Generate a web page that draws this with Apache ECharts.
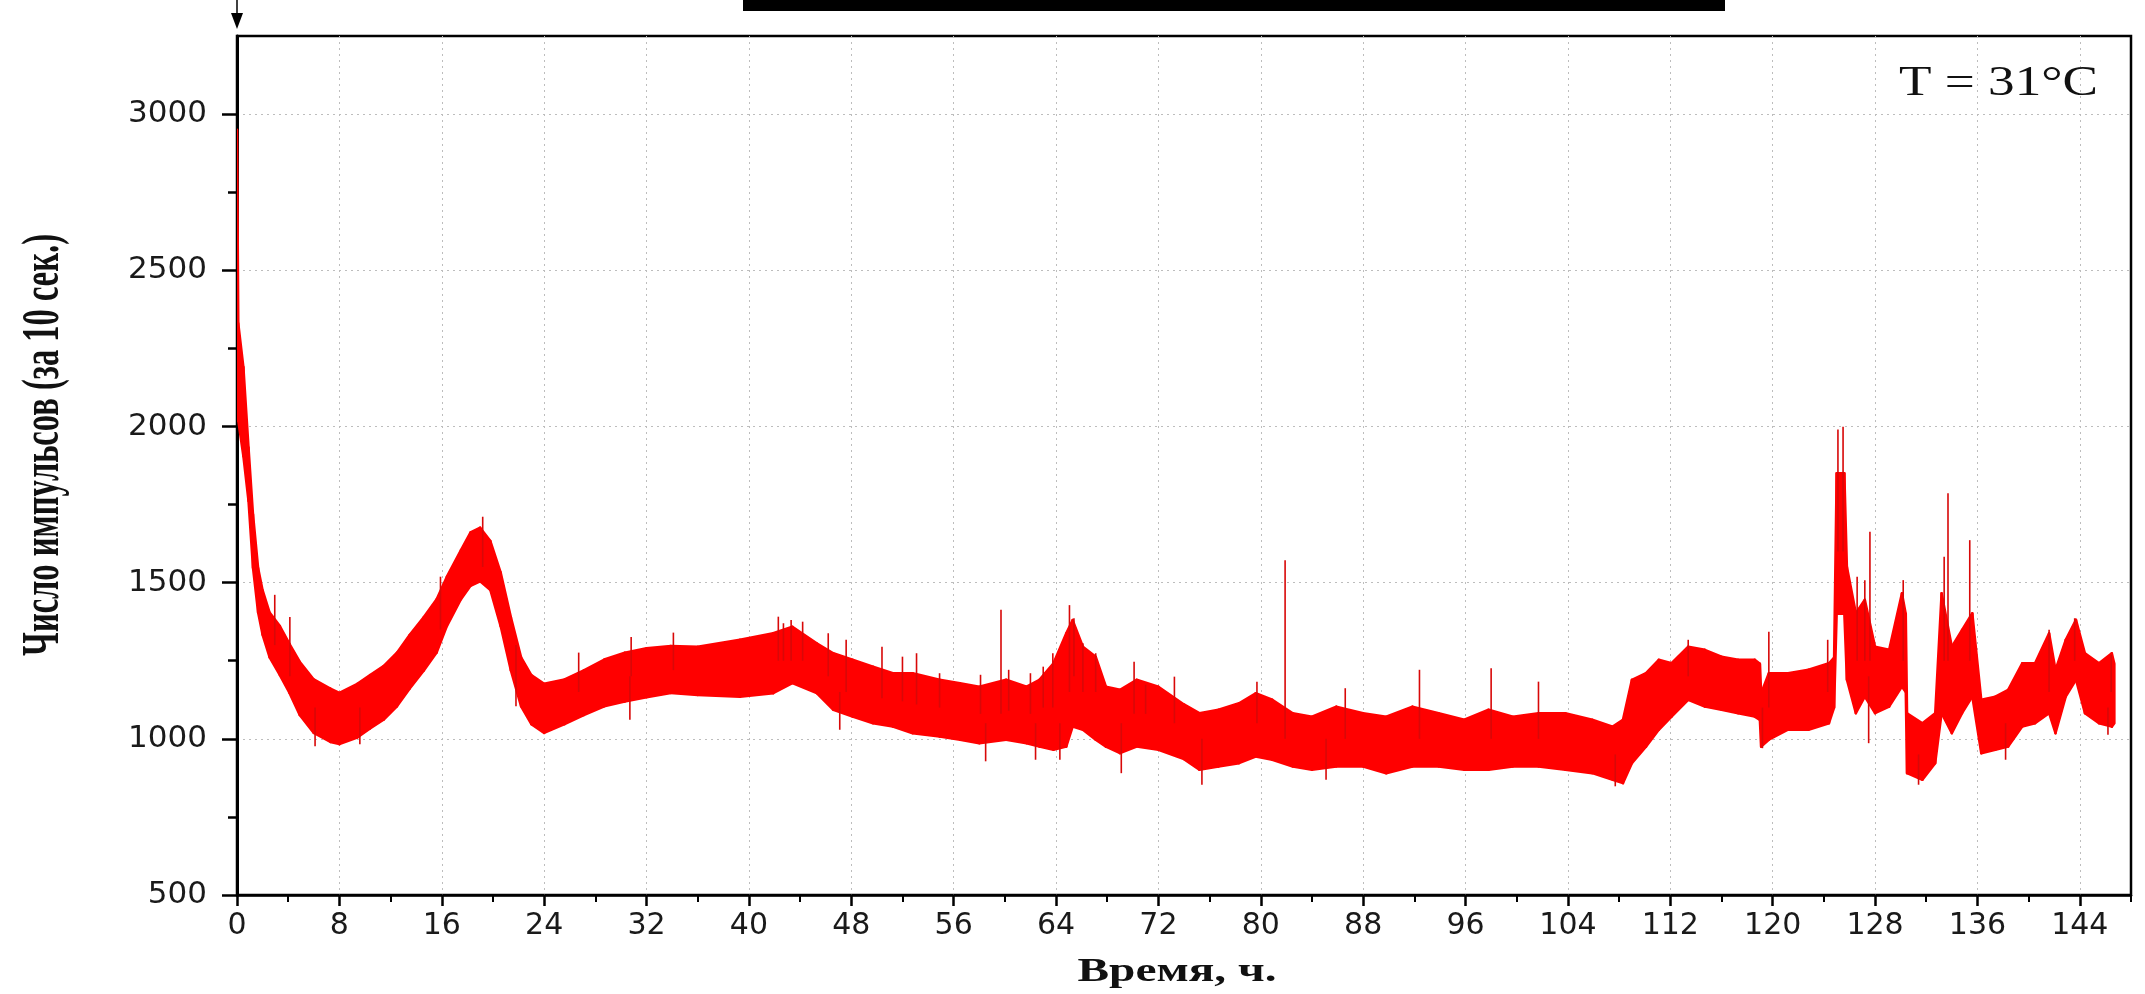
<!DOCTYPE html>
<html>
<head>
<meta charset="utf-8">
<script src="https://cdn.jsdelivr.net/npm/echarts@6/dist/echarts.min.js"></script>
<style>
html,body{margin:0;padding:0;background:#fff;}
#c{width:2145px;height:994px;}
</style>
</head>
<body>
<div id="c"></div>
<script>
// ---------------- data ----------------
const hours = [0, 0.1, 0.5, 0.9, 1.25, 1.65, 2.0, 2.55, 3.35, 4.1,
  4.9, 6.0, 7.3, 8.0, 9.4, 10.4, 11.45, 12.5, 13.5, 14.6,
  15.6, 16.4, 17.5, 18.25, 19.0, 19.8, 20.6, 21.4, 22.2, 23.0,
  24.0, 25.6, 27.1, 28.7, 30.3, 32.0, 33.9, 36.0, 39.3, 41.9,
  43.4, 45.3, 46.6, 48.1, 49.7, 51.25, 52.8, 54.9, 56.5, 58.0,
  60.1, 61.7, 62.7, 63.8, 64.8, 65.3, 66.1, 67.1, 67.9, 69.0,
  70.3, 72.0, 74.0, 75.2, 76.7, 78.3, 79.6, 80.9, 82.5, 84.0,
  85.9, 88.0, 89.8, 91.85, 93.9, 95.9, 97.8, 99.7, 101.7, 103.8,
  105.9, 107.5, 108.3, 109.0, 110.1, 111.1, 112.1, 113.4, 114.7, 116.0,
  117.3, 118.6, 119.0, 119.1, 119.7, 121.2, 122.8, 124.4, 124.8, 125.0,
  125.6, 125.8, 126.5, 127.2, 128.0, 129.1, 130.1, 130.4, 130.5, 131.7,
  132.7, 133.2, 134.0, 134.8, 135.6, 136.3, 137.4, 138.4, 139.5, 140.5,
  141.6, 142.1, 142.9, 143.7, 144.4, 145.5, 146.5, 146.7];

// upper edge of the noisy band
const upper = [2950, 2330, 2190, 1933, 1719, 1547, 1476, 1404, 1361, 1304,
  1247, 1190, 1161, 1147, 1176, 1204, 1233, 1276, 1333, 1390,
  1447, 1519, 1604, 1661, 1676, 1633, 1533, 1390, 1261, 1204,
  1176, 1190, 1219, 1254, 1276, 1290, 1297, 1295, 1317, 1338,
  1359, 1306, 1274, 1253, 1231, 1210, 1210, 1189, 1178, 1167,
  1189, 1167, 1189, 1242, 1338, 1380, 1295, 1263, 1167, 1157,
  1189, 1167, 1110, 1082, 1093, 1114, 1146, 1125, 1082, 1071,
  1103, 1082, 1071, 1103, 1082, 1061, 1093, 1071, 1082, 1082,
  1061, 1039, 1061, 1189, 1210, 1253, 1242, 1295, 1285, 1263,
  1253, 1253, 1240, 1146, 1210, 1210, 1221, 1242, 1260, 1850,
  1850, 1551, 1402, 1445, 1295, 1285, 1466, 1400, 1082, 1050,
  1082, 1466, 1295, 1349, 1402, 1125, 1135, 1157, 1242, 1242,
  1338, 1221, 1317, 1381, 1274, 1242, 1274, 1240];

// lower edge of the noisy band
const lower = [2100, 2018, 1904, 1761, 1547, 1404, 1333, 1261, 1204, 1147,
  1076, 1019, 990, 983, 1004, 1033, 1061, 1104, 1161, 1219,
  1276, 1361, 1447, 1490, 1504, 1476, 1361, 1219, 1104, 1047,
  1019, 1047, 1076, 1104, 1119, 1133, 1147, 1140, 1135, 1146,
  1178, 1146, 1093, 1071, 1050, 1039, 1018, 1007, 997, 986,
  997, 986, 975, 965, 975, 1039, 1029, 997, 975, 954,
  975, 965, 935, 901, 911, 922, 943, 933, 911, 901,
  911, 911, 890, 911, 911, 901, 901, 911, 911, 901,
  890, 869, 858, 922, 975, 1029, 1071, 1125, 1103, 1093,
  1082, 1071, 1060, 975, 997, 1029, 1029, 1050, 1100, 1400,
  1400, 1189, 1082, 1135, 1082, 1103, 1167, 1150, 890, 869,
  922, 1082, 1018, 1082, 1135, 954, 965, 975, 1039, 1050,
  1082, 1018, 1135, 1189, 1082, 1050, 1039, 1050];

// single spikes: time, value where the spike leaves the band, spike extreme
const spikeHours = [2.95, 4.13, 15.9, 19.2, 26.7, 30.8, 34.1, 42.3, 44.2, 47.6,
  50.4, 53.1, 59.7, 63.75, 65.05, 66.1, 70.1, 73.25, 79.7, 81.9,
  86.6, 92.4, 98.0, 101.7, 113.4, 119.7, 124.3, 125.1, 125.5, 126.6,
  127.2, 127.6, 130.2, 133.4, 133.7, 135.4, 141.6, 143.6, 146.45,
  42.7, 43.3, 46.2, 52.0, 54.9, 58.1, 60.3, 62.0, 63.0, 65.4, 67.1, 71.0,
  6.1, 9.6, 21.8, 30.7, 47.1, 58.5, 62.4, 64.3, 69.1, 75.4,
  85.1, 107.7, 119.2, 127.5, 131.4, 138.2, 146.2];
const spikeFrom = [1300, 1200, 1350, 1550, 1150, 1200, 1220, 1250, 1250, 1150,
  1130, 1110, 1080, 1100, 1150, 1150, 1080, 1050, 1050, 1000,
  1000, 1000, 1000, 1000, 1200, 1100, 1150, 1600, 1600, 1250,
  1250, 1250, 1250, 1250, 1250, 1250, 1150, 1250, 1150,
  1250, 1250, 1200, 1120, 1100, 1080, 1090, 1080, 1100, 1200, 1150, 1080,
  1100, 1100, 1300, 1200, 1150, 1050, 1050, 1050, 1050, 1000,
  1000, 950, 1100, 1200, 950, 1050, 1100];
const spikeTo = [1461, 1390, 1519, 1711, 1276, 1326, 1340, 1391, 1375, 1317,
  1295, 1274, 1413, 1274, 1428, 1306, 1247, 1199, 1183, 1572,
  1162, 1221, 1226, 1183, 1317, 1343, 1317, 1990, 1999, 1519,
  1508, 1663, 1508, 1583, 1786, 1636, 1349, 1386, 1269,
  1370, 1380, 1338, 1263, 1210, 1205, 1221, 1210, 1231, 1386, 1274, 1173,
  976, 983, 1104, 1061, 1029, 928, 933, 933, 890, 853,
  869, 848, 970, 986, 853, 933, 1013];

const xMajorTicks = [0, 8, 16, 24, 32, 40, 48, 56, 64, 72, 80, 88, 96, 104, 112, 120, 128, 136, 144];
const xMinorTicks = [4, 12, 20, 28, 36, 44, 52, 60, 68, 76, 84, 92, 100, 108, 116, 124, 132, 140, 148];
const yMajorTicks = [500, 1000, 1500, 2000, 2500, 3000];
const yMinorTicks = [750, 1250, 1750, 2250, 2750];

const yTitle = 'Число импульсов (за 10 сек.)';
const xTitle = 'Время, ч.';
const tempLabel = 'T = 31°C';

// ---------------- helpers ----------------
const serif = '"Liberation Serif", "Times New Roman", serif';
function textWidth(text, font) {
  const ctx = document.createElement('canvas').getContext('2d');
  ctx.font = font;
  return ctx.measureText(text).width;
}

const bandData = hours.map((t, i) => [t, lower[i], upper[i]]);
const spikeData = spikeHours.map((t, i) => [t, spikeFrom[i], spikeTo[i]]);

const RED = '#ff0000';
const tickFont = '"DejaVu Sans", Arial, sans-serif';

const yFs = 33, xFs = 34, tFs = 42;
const yTitleW = textWidth(yTitle, `bold ${yFs}px ${serif}`);
const xTitleW = textWidth(xTitle, `bold ${xFs}px ${serif}`);
const tW = textWidth(tempLabel, `${tFs}px ${serif}`);

const chart = echarts.init(document.getElementById('c'), null, {renderer: 'canvas'});

const option = {
  animation: false,
  backgroundColor: '#ffffff',
  grid: {
    left: 237, right: 14, top: 36, bottom: 99,
    show: true, borderColor: '#000', borderWidth: 2.5, backgroundColor: 'transparent'
  },
  xAxis: [
    {
      type: 'value', min: 0, max: 148, position: 'bottom',
      axisLine: {show: true, onZero: false, lineStyle: {color: '#000', width: 2.5}},
      axisTick: {show: true, inside: false, length: 11, customValues: xMajorTicks,
                 lineStyle: {color: '#000', width: 2.5}},
      axisLabel: {show: true, customValues: xMajorTicks, margin: 16, color: '#1a1a1a',
                  fontFamily: tickFont, fontSize: 30, formatter: v => String(v)},
      splitLine: {show: true, lineStyle: {color: '#bdbdbd', width: 1, type: [2, 4]}}
    },
    {
      type: 'value', min: 0, max: 148, position: 'bottom',
      axisLine: {show: false, onZero: false},
      axisTick: {show: true, inside: false, length: 7, customValues: xMinorTicks,
                 lineStyle: {color: '#000', width: 2}},
      axisLabel: {show: false},
      splitLine: {show: false}
    }
  ],
  yAxis: [
    {
      type: 'value', min: 500, max: 3250, position: 'left',
      axisLine: {show: true, onZero: false, lineStyle: {color: '#000', width: 3}},
      axisTick: {show: true, inside: false, length: 15, customValues: yMajorTicks,
                 lineStyle: {color: '#000', width: 2.5}},
      axisLabel: {show: true, customValues: yMajorTicks, margin: 30, color: '#1a1a1a',
                  fontFamily: tickFont, fontSize: 31, formatter: v => String(v)},
      splitLine: {show: true, lineStyle: {color: '#bdbdbd', width: 1, type: [2, 4]}}
    },
    {
      type: 'value', min: 500, max: 3250, position: 'left',
      axisLine: {show: false, onZero: false},
      axisTick: {show: true, inside: false, length: 9, customValues: yMinorTicks,
                 lineStyle: {color: '#000', width: 2.5}},
      axisLabel: {show: false},
      splitLine: {show: false}
    }
  ],
  series: [
    {
      // noisy band between the lower and upper edges, one quad per interval
      type: 'custom', data: bandData, xAxisIndex: 0, yAxisIndex: 0, silent: true,
      encode: {x: 0, y: [1, 2]}, clip: true, z: 3,
      renderItem: function (params, api) {
        const i = params.dataIndex;
        if (i >= hours.length - 1) return null;
        const p1 = api.coord([hours[i], lower[i]]);
        const p2 = api.coord([hours[i], upper[i]]);
        const p3 = api.coord([hours[i + 1], upper[i + 1]]);
        const p4 = api.coord([hours[i + 1], lower[i + 1]]);
        return {type: 'polygon', shape: {points: [p1, p2, p3, p4]},
                style: {fill: RED, stroke: RED, lineWidth: 2.5, lineJoin: 'round'}};
      }
    },
    {
      type: 'custom', data: spikeData, xAxisIndex: 0, yAxisIndex: 0, silent: true,
      encode: {x: 0, y: [1, 2]}, clip: true, z: 4,
      renderItem: function (params, api) {
        const a = api.coord([api.value(0), api.value(1)]);
        const b = api.coord([api.value(0), api.value(2)]);
        return {type: 'line', shape: {x1: a[0], y1: a[1], x2: b[0], y2: b[1]},
                style: {stroke: '#d80808', lineWidth: 1.6}};
      }
    }
  ],
  graphic: [
    {type: 'rect', shape: {x: 743, y: 0, width: 982, height: 11}, style: {fill: '#000'}, z: 10},
    {type: 'line', shape: {x1: 237, y1: 0, x2: 237, y2: 16}, style: {stroke: '#000', lineWidth: 1.5}, z: 10},
    {type: 'polygon', shape: {points: [[231, 13], [243, 13], [237, 29]]}, style: {fill: '#000'}, z: 10},
    {
      type: 'text', x: 44, y: 445, rotation: Math.PI / 2,
      scaleX: 422 / yTitleW, scaleY: 1.6, z: 10,
      style: {text: yTitle, font: `bold ${yFs}px ${serif}`, fill: '#111',
              align: 'center', verticalAlign: 'middle', textAlign: 'center', textVerticalAlign: 'middle'}
    },
    {
      type: 'text', x: 1177, y: 972, scaleX: 199 / xTitleW, scaleY: 1, z: 10,
      style: {text: xTitle, font: `bold ${xFs}px ${serif}`, fill: '#111',
              align: 'center', verticalAlign: 'middle', textAlign: 'center', textVerticalAlign: 'middle'}
    },
    {
      type: 'text', x: 2098, y: 84, scaleX: 199 / tW, scaleY: 1, z: 10,
      style: {text: tempLabel, font: `${tFs}px ${serif}`, fill: '#111',
              align: 'right', verticalAlign: 'middle', textAlign: 'right', textVerticalAlign: 'middle'}
    }
  ]
};
chart.setOption(option);
</script>
</body>
</html>
